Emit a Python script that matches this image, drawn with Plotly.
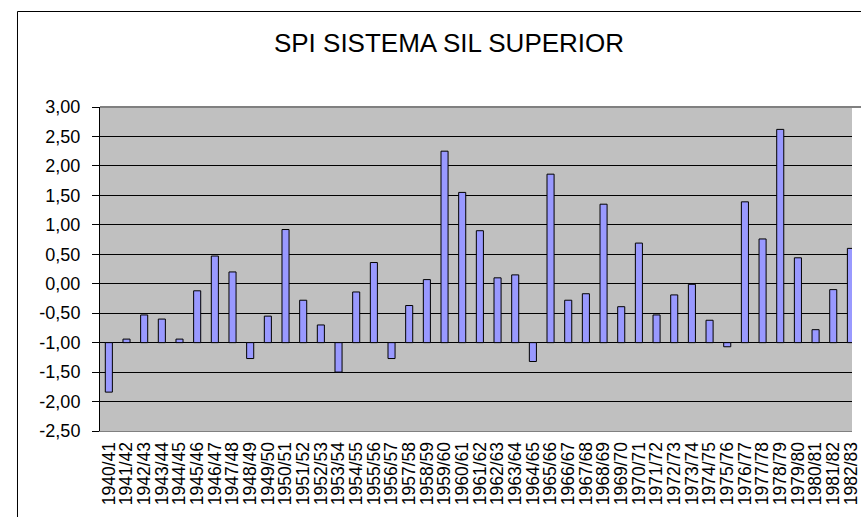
import plotly.graph_objects as go

categories = ["1940/41", "1941/42", "1942/43", "1943/44", "1944/45", "1945/46", "1946/47",
              "1947/48", "1948/49", "1949/50", "1950/51", "1951/52", "1952/53", "1953/54",
              "1954/55", "1955/56", "1956/57", "1957/58", "1958/59", "1959/60", "1960/61",
              "1961/62", "1962/63", "1963/64", "1964/65", "1965/66", "1966/67", "1967/68",
              "1968/69", "1969/70", "1970/71", "1971/72", "1972/73", "1973/74", "1974/75",
              "1975/76", "1976/77", "1977/78", "1978/79", "1979/80", "1980/81", "1981/82",
              "1982/83"]

spi = [-1.84, -0.94, -0.53, -0.60, -0.94, -0.12, 0.47, 0.20, -1.27, -0.55,
       0.92, -0.28, -0.70, -1.50, -0.14, 0.36, -1.27, -0.37, 0.07, 2.25,
       1.55, 0.90, 0.10, 0.15, -1.32, 1.86, -0.28, -0.17, 1.35, -0.39,
       0.69, -0.53, -0.19, -0.01, -0.62, -1.07, 1.39, 0.76, 2.62, 0.44,
       -0.78, -0.10, 0.60]

y_tick_vals = [-2.5, -2.0, -1.5, -1.0, -0.5, 0.0, 0.5, 1.0, 1.5, 2.0, 2.5, 3.0]
y_tick_text = ["-2,50", "-2,00", "-1,50", "-1,00", "-0,50", "0,00", "0,50",
               "1,00", "1,50", "2,00", "2,50", "3,00"]

BASE = -1.0
FONT = "Arial, Liberation Sans, sans-serif"

W, H = 861, 517
ML, MT, MB = 100, 107, 86
plot_w = W - ML
plot_h = H - MT - MB
cat_px = 17.88
x_lo = -0.5
x_hi = x_lo + plot_w / cat_px
y_lo, y_hi = -2.5, 3.0

n = len(categories)
idx = list(range(n))

fig = go.Figure()
fig.add_trace(go.Bar(
    x=idx,
    y=[v - BASE for v in spi],
    base=BASE,
    width=0.4,
    marker=dict(color="#9999FF", line=dict(color="#000000", width=1)),
    hoverinfo="skip",
    showlegend=False,
))

def px_to_paper_x(px):
    return (px - ML) / plot_w

def px_to_paper_y(py):
    return (H - MB - py) / plot_h

shapes = [
    # outer chart frame (extends beyond the visible window)
    dict(type="rect", xref="paper", yref="paper",
         x0=px_to_paper_x(16.5), x1=px_to_paper_x(W + 50),
         y0=px_to_paper_y(H + 50), y1=px_to_paper_y(11.5),
         line=dict(color="#000000", width=1), fillcolor="rgba(0,0,0,0)", layer="above"),
    # plot area top border (gray)
    dict(type="line", xref="paper", yref="paper", x0=0, x1=1.05, y0=1, y1=1,
         line=dict(color="#808080", width=2), layer="above"),
]

fig.update_layout(
    width=W, height=H,
    margin=dict(l=ML, r=0, t=MT, b=MB, pad=0),
    paper_bgcolor="#FFFFFF",
    plot_bgcolor="#C0C0C0",
    font=dict(family=FONT, color="#000000", size=17),
    title=dict(text="SPI SISTEMA SIL SUPERIOR", x=449 / W, xref="container",
               xanchor="center", y=1 - 43 / H, yref="container", yanchor="middle",
               font=dict(family=FONT, size=26, color="#000000")),
    bargap=0.6,
    shapes=shapes,
    xaxis=dict(
        range=[x_lo, x_hi], tickmode="array", tickvals=idx, ticktext=categories,
        tickangle=-90, ticks="", showgrid=False, zeroline=False,
        showline=True, linecolor="#808080", linewidth=1,
        tickfont=dict(family=FONT, size=17.5, color="#000000"),
        ticklabelstandoff=3, ticklabeloverflow="allow",
    ),
    xaxis2=dict(
        overlaying="x", anchor="free", position=(BASE - y_lo) / (y_hi - y_lo),
        range=[x_lo, x_hi], tickmode="array",
        tickvals=[i + 0.5 for i in idx], showticklabels=False,
        ticks="outside", ticklen=6, tickcolor="#000000", tickwidth=1,
        showline=True, linecolor="#000000", linewidth=1,
        showgrid=False, zeroline=False, side="bottom",
    ),
    yaxis=dict(
        range=[y_lo, y_hi], tickmode="array", tickvals=y_tick_vals, ticktext=y_tick_text,
        showgrid=True, gridcolor="#000000", gridwidth=1, zeroline=False,
        showline=True, linecolor="#000000", linewidth=1,
        ticks="outside", ticklen=7, tickcolor="#000000",
        tickfont=dict(family=FONT, size=18, color="#000000"),
        ticklabelstandoff=8,
    ),
)

fig.write_html(
    "out.html",
    config={"displayModeBar": False, "staticPlot": True},
    post_script="document.body.style.margin='0px';document.body.style.overflow='hidden';",
)
